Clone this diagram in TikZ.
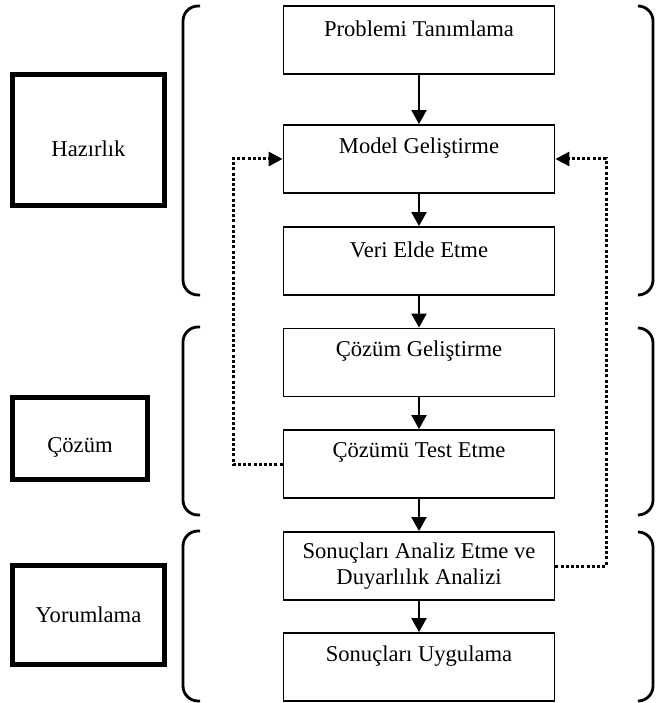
\documentclass[tikz,border=0pt]{standalone}
\usepackage{fontspec}
\setmainfont{Liberation Serif}
\usetikzlibrary{arrows.meta}

\tikzset{
  txt/.style={font=\fontsize{22.6}{26}\selectfont},
  stepbox/.style={draw, line width=1.8pt, minimum width=271pt, minimum height=68pt,
    inner sep=0pt, txt},
  toptext/.style={label={[anchor=center, yshift=-23.5pt, txt]north:#1}},
  phasebox/.style={draw, line width=5.5pt, inner sep=0pt, txt},
  lowtext/.style={label={[anchor=center, yshift=-9pt, txt]center:#1}},
  brace/.style={line width=2.8pt, rounded corners=15pt},
  flow/.style={line width=2pt, -{Triangle[length=14pt, width=15pt]}},
  back/.style={line width=3pt, dash pattern=on 3pt off 2.2pt,
    -{Triangle[length=14pt, width=14pt]}},
}

\begin{document}
\begin{tikzpicture}[x=1pt, y=-1pt]
\useasboundingbox (0,0) rectangle (655,703);

% main process steps
\node[stepbox, toptext={Problemi Tanımlama}] (s1) at (419,40) {};
\node[stepbox, toptext={Model Geliştirme}]   (s2) at (419,159) {};
\node[stepbox, toptext={Veri Elde Etme}]     (s3) at (419,261) {};
\node[stepbox, toptext={Çözüm Geliştirme}]   (s4) at (419,362.5) {};
\node[stepbox, toptext={Çözümü Test Etme}]   (s5) at (419,464) {};
\node[stepbox, align=center] (s6) at (419,566) {Sonuçları Analiz Etme ve\\Duyarlılık Analizi};
\node[stepbox, toptext={Sonuçları Uygulama}] (s7) at (419,667) {};

% forward arrows
\draw[flow] (s1) -- (s2);
\draw[flow] (s2) -- (s3);
\draw[flow] (s3) -- (s4);
\draw[flow] (s4) -- (s5);
\draw[flow] (s5) -- (s6);
\draw[flow] (s6) -- (s7);

% feedback loops
\coordinate (lx) at (233,0);
\coordinate (rx) at (606,0);
\draw[back] (s5.west) -| (lx |- s2.west) -- (s2.west);
\draw[back] (s6.east) -| (rx |- s2.east) -- (s2.east);

% phase labels
\node[phasebox, minimum width=152pt, minimum height=131pt, lowtext={Hazırlık}] (p1) at (88.5,140) {};
\node[phasebox, minimum width=135pt, minimum height=82pt, lowtext={Çözüm}]  (p2) at (80,438.5) {};
\node[phasebox, minimum width=152pt, minimum height=99pt]  (p3) at (88.5,615) {Yorumlama};

% left brackets
\draw[brace] (200,6) -- (183,6) -- (183,295) -- (200,295);
\draw[brace] (200,327) -- (183,327) -- (183,515) -- (200,515);
\draw[brace] (200,531) -- (183,531) -- (183,701) -- (200,701);

% right brackets
\draw[brace] (639,6) -- (653,6) -- (653,295) -- (639,295);
\draw[brace] (639,328) -- (653,328) -- (653,515) -- (639,515);
\draw[brace] (639,532) -- (653,532) -- (653,701) -- (639,701);
\end{tikzpicture}
\end{document}
